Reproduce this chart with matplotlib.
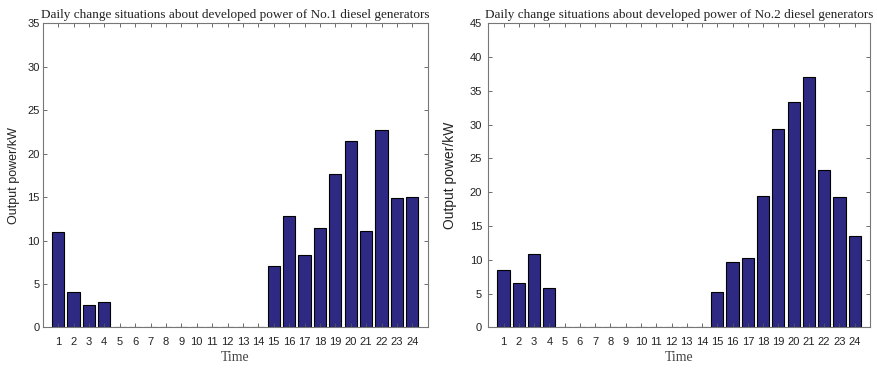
import matplotlib.pyplot as plt

hours = list(range(1, 25))
gen1_kw = [10.95, 4.12, 2.56, 2.9, 0, 0, 0, 0, 0, 0, 0, 0, 0, 0,
           7.06, 12.86, 8.3, 11.5, 17.7, 21.4, 11.1, 22.7, 14.92, 15.04]
gen2_kw = [8.5, 6.55, 10.87, 5.8, 0, 0, 0, 0, 0, 0, 0, 0, 0, 0,
           5.31, 9.64, 10.33, 19.48, 29.41, 33.35, 36.99, 23.36, 19.28, 13.58]
titles = ['Daily change situations about developed power of No.1 diesel generators',
          'Daily change situations about developed power of No.2 diesel generators']

bar_color = '#2e2a84'

fig = plt.figure(figsize=(8.77, 3.69), dpi=100)
ax1 = fig.add_axes([0.0487, 0.1125, 0.439, 0.8244])
ax2 = fig.add_axes([0.5568, 0.1125, 0.4352, 0.8244])

# axis, values, title, ymax, ytick pad, ylabel size, ylabel x
setups = [(ax1, gen1_kw, titles[0], 35, 2.0, 9, -0.059),
          (ax2, gen2_kw, titles[1], 45, 4.5, 10, -0.082)]

for ax, vals, title, ymax, ypad, ysize, yx in setups:
    ax.bar(hours, vals, width=0.8, color=bar_color, edgecolor='black', linewidth=0.8)
    ax.set_xlim(0, 25)
    ax.set_ylim(0, ymax)
    ax.set_xticks(hours)
    ax.set_yticks(range(0, ymax + 1, 5))
    ax.tick_params(direction='in', top=True, right=True, length=3, width=0.6,
                   color='#555555', labelsize=8, labelcolor='#222222')
    ax.tick_params(axis='x', pad=7)
    ax.tick_params(axis='y', pad=ypad)
    for lab in ax.get_xticklabels() + ax.get_yticklabels():
        lab.set_family('Liberation Sans')
    for s in ax.spines.values():
        s.set_color('#777777')
        s.set_linewidth(0.8)
    ax.set_title(title, family='Liberation Serif', fontsize=9.5, pad=3.5, color='#222222')
    ax.set_xlabel('Time', family='Liberation Serif', fontsize=10, color='#444444', labelpad=3)
    ax.set_ylabel('Output power/kW', family='Liberation Sans', fontsize=ysize, color='#222222')
    ax.yaxis.set_label_coords(yx, 0.5)

fig.savefig('out.png', dpi=100)
